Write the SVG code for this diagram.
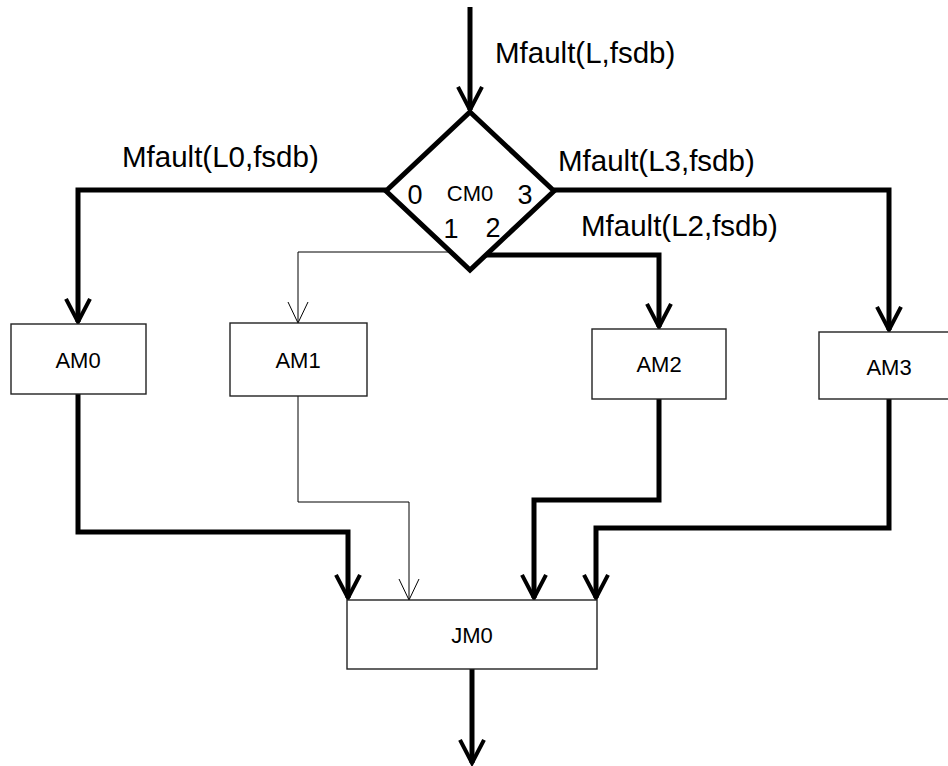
<svg xmlns="http://www.w3.org/2000/svg" width="948" height="766" viewBox="0 0 948 766">
  <style>
    .wire { fill: none; stroke: #000; stroke-width: 5; stroke-linejoin: miter; }
    .wire-thin { fill: none; stroke: #000; stroke-width: 1; }
    .box { fill: #fff; stroke: #222; stroke-width: 1.4; }
    .diamond { fill: #fff; stroke: #000; stroke-width: 5; stroke-linejoin: miter; }
    .lbl { font-family: "Liberation Sans", Arial, sans-serif; font-size: 29.5px; fill: #000; }
    .port { font-family: "Liberation Sans", Arial, sans-serif; font-size: 27px; fill: #000; text-anchor: middle; }
    .name { font-family: "Liberation Sans", Arial, sans-serif; font-size: 22px; fill: #000; text-anchor: middle; }
  </style>
  <defs>
    <marker id="arrow-thick" markerUnits="userSpaceOnUse" markerWidth="40" markerHeight="40" viewBox="-40 -20 50 40" refX="0" refY="0" orient="auto" overflow="visible">
      <path d="M -29 -15 L 0 0 L -29 15" fill="none" stroke="#000" stroke-width="5" stroke-linejoin="miter"/>
    </marker>
    <marker id="arrow-thin" markerUnits="userSpaceOnUse" markerWidth="30" markerHeight="30" viewBox="-25 -15 30 30" refX="0" refY="0" orient="auto" overflow="visible">
      <path d="M -21 -10 L 0 0 L -21 10" fill="none" stroke="#000" stroke-width="1"/>
    </marker>
  </defs>

  <!-- connectors -->
  <g id="connectors">
    <path class="wire" d="M470 7 V110" marker-end="url(#arrow-thick)"/>
    <path class="wire" d="M386 190 H78 V322" marker-end="url(#arrow-thick)"/>
    <path class="wire-thin" d="M451 252 H298 V323" marker-end="url(#arrow-thin)"/>
    <path class="wire" d="M486 255 H659 V327" marker-end="url(#arrow-thick)"/>
    <path class="wire" d="M554 190 H889 V330" marker-end="url(#arrow-thick)"/>
    <path class="wire" d="M78 394 V532 H348 V598" marker-end="url(#arrow-thick)"/>
    <path class="wire-thin" d="M298 396 V502 H409 V600" marker-end="url(#arrow-thin)"/>
    <path class="wire" d="M659 399 V500 H534 V598" marker-end="url(#arrow-thick)"/>
    <path class="wire" d="M889 399 V528 H596 V598" marker-end="url(#arrow-thick)"/>
    <path class="wire" d="M472 669 V763" marker-end="url(#arrow-thick)"/>
  </g>

  <!-- edge labels -->
  <g id="edge-labels">
    <text class="lbl" x="495" y="63">Mfault(L,fsdb)</text>
    <text class="lbl" x="122" y="167">Mfault(L0,fsdb)</text>
    <text class="lbl" x="558" y="171">Mfault(L3,fsdb)</text>
    <text class="lbl" x="581" y="236">Mfault(L2,fsdb)</text>
  </g>

  <!-- choice node -->
  <g id="CM0">
    <polygon class="diamond" points="470,112 554,191 470,270 386,191"/>
    <text class="name" x="470" y="201">CM0</text>
    <text class="port" x="415" y="204">0</text>
    <text class="port" x="525" y="204">3</text>
    <text class="port" x="451" y="238">1</text>
    <text class="port" x="493" y="237">2</text>
  </g>

  <g id="AM0">
    <rect class="box" x="11" y="324" width="135" height="70"/>
    <text class="name" x="78" y="368">AM0</text>
  </g>
  <g id="AM1">
    <rect class="box" x="230" y="323" width="137" height="73"/>
    <text class="name" x="298" y="368">AM1</text>
  </g>
  <g id="AM2">
    <rect class="box" x="592" y="329" width="134" height="70"/>
    <text class="name" x="659" y="372">AM2</text>
  </g>
  <g id="AM3">
    <rect class="box" x="819" y="332" width="140" height="67"/>
    <text class="name" x="889" y="375">AM3</text>
  </g>
  <g id="JM0">
    <rect class="box" x="347" y="600" width="250" height="69"/>
    <text class="name" x="472" y="643">JM0</text>
  </g>
</svg>
